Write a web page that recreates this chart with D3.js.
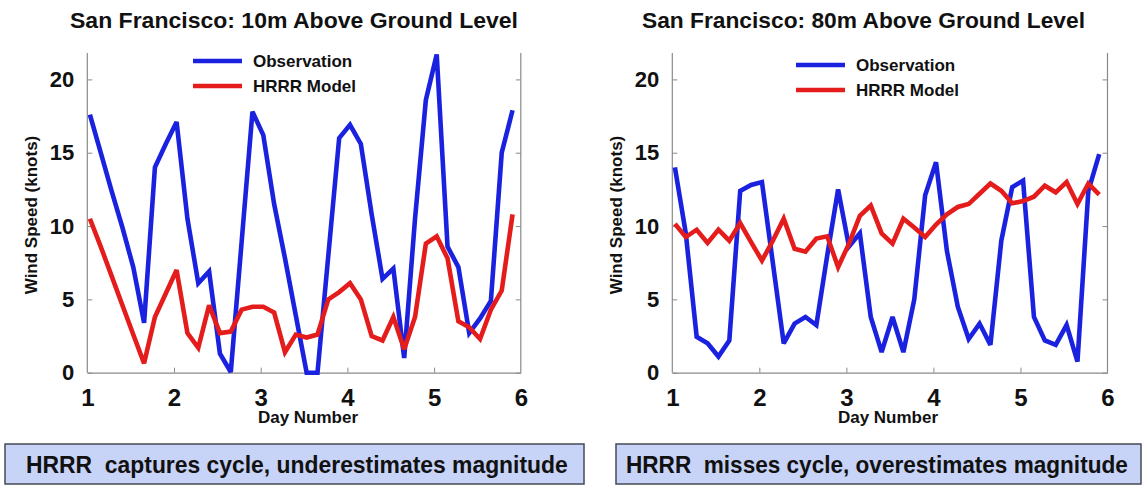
<!DOCTYPE html>
<html><head><meta charset="utf-8">
<script src="https://cdn.jsdelivr.net/npm/d3@7"></script>
<style>
body{margin:0;background:#fff}
svg{display:block}
text{font-family:"Liberation Sans",Arial,Helvetica,sans-serif;fill:#111}
</style>
</head><body>
<svg id="c" width="1143" height="487"></svg>
<script>
// ---- data ----
const days = [1.03,1.155,1.28,1.405,1.53,1.655,1.78,1.905,2.03,2.155,2.28,2.405,2.53,2.655,2.78,2.905,3.03,3.155,3.28,3.405,3.53,3.655,3.78,3.905,4.03,4.155,4.28,4.405,4.53,4.655,4.78,4.905,5.03,5.155,5.28,5.405,5.53,5.655,5.78,5.905];
const obs10 = [17.6,15.0,12.4,9.9,7.2,3.4,14.0,15.6,17.1,10.5, 6.1,6.9,1.3,0.05,8.9,17.8,16.2,11.5,7.8,3.9, 0,0,8.0,16.0,16.9,15.6,10.8,6.4,7.1,1.0, 10.5,18.6,21.7,8.6,7.2,2.7,3.7,4.9,15.0,17.9];
const hrrr10 = [10.5,8.6,6.6,4.6,2.6,0.64,3.8,5.4,7.0,2.7, 1.7,4.6,2.7,2.8,4.3,4.5,4.5,4.1,1.4,2.6, 2.4,2.6,5.0,5.5,6.1,5.0,2.5,2.2,3.8,1.6, 3.8,8.8,9.3,7.8,3.5,3.1,2.3,4.3,5.6,10.8];
const obs80 = [14.0,9.5,2.45,2.0,1.1,2.2,12.4,12.8,13.0,7.5, 2.0,3.35,3.8,3.25,8.0,12.5,8.6,9.5,3.8,1.4, 3.8,1.4,5.0,12.1,14.35,8.3,4.5,2.3,3.35,1.9, 9.0,12.65,13.1,3.8,2.2,1.9,3.25,0.75,12.4,14.9];
const hrrr80 = [10.15,9.25,9.75,8.85,9.75,9.0,10.2,8.9,7.65,9.0, 10.5,8.45,8.25,9.15,9.3,7.2,8.8,10.7,11.4,9.5, 8.8,10.5,9.9,9.25,10.1,10.8,11.3,11.5,12.2,12.9, 12.4,11.55,11.7,12.0,12.75,12.3,13.0,11.5,12.9,12.15];
const xTicks = [1,2,3,4,5,6];
const yTicks = [0,5,10,15,20];
const seriesNames = ["Observation","HRRR Model"];
const titles = ["San Francisco: 10m Above Ground Level","San Francisco: 80m Above Ground Level"];
const captions = ["HRRR  captures cycle, underestimates magnitude","HRRR  misses cycle, overestimates magnitude"];
const yLabel = "Wind Speed (knots)";
const xLabel = "Day Number";

// ---- layout ----
const svg = d3.select("#c");
const BLUE = "#1a22e0", RED = "#e41c1c", AX = "#8a8a8a";
const panels = [
  {x0:87.3, x1:520.8, obs:obs10, mod:hrrr10, title:titles[0], titleX:70, titleW:448,
   legX:193, legY:61, ylabX:37, xlabX:308, cap:captions[0], capX:5, capW:579, txtX:26, txtW:542},
  {x0:672.3, x1:1107.5, obs:obs80, mod:hrrr80, title:titles[1], titleX:642, titleW:443,
   legX:796, legY:65, ylabX:622, xlabX:888, cap:captions[1], capX:616, capW:525, txtX:626, txtW:502}
];
const yTop = 53, yBot = 372.7;

panels.forEach(p => {
  const x = d3.scaleLinear().domain([1,6]).range([p.x0, p.x1]);
  const y = d3.scaleLinear().domain([0,21.8]).range([yBot, yTop]);
  const g = svg.append("g");

  // title
  g.append("text").attr("x", p.titleX).attr("y", 28)
    .attr("font-size", 22).attr("font-weight", "bold")
    .attr("textLength", p.titleW).attr("lengthAdjust", "spacingAndGlyphs")
    .text(p.title);

  // axes
  const ay = g.append("g").attr("transform", `translate(${p.x0},0)`)
    .call(d3.axisLeft(y).tickValues(yTicks).tickFormat(d3.format("d")).tickSizeInner(-5).tickSizeOuter(0).tickPadding(13));
  const ar = g.append("g").attr("transform", `translate(${p.x1},0)`)
    .call(d3.axisRight(y).tickValues(yTicks).tickSizeInner(-5).tickSizeOuter(0).tickFormat(""));
  const ab = g.append("g").attr("transform", `translate(0,${yBot})`)
    .call(d3.axisBottom(x).tickValues(xTicks).tickFormat(d3.format("d")).tickSizeInner(-5).tickSizeOuter(0).tickPadding(16));
  [ay, ar, ab].forEach(a => {
    a.select(".domain").attr("stroke", AX).attr("stroke-width", 1.2);
    a.selectAll(".tick line").attr("stroke", AX).attr("stroke-width", 1);
  });
  ay.select(".domain").attr("d", `M0,${yTop}V${yBot}`);
  ar.select(".domain").attr("d", `M0,${yTop}V${yBot}`);
  ay.selectAll(".tick text").attr("font-size", 22).attr("font-weight", "bold")
    .attr("font-family", "Liberation Sans, Arial, sans-serif").attr("fill", "#111");
  ab.selectAll(".tick text").attr("font-size", 24).attr("font-weight", "bold")
    .attr("font-family", "Liberation Sans, Arial, sans-serif").attr("fill", "#111");
  ab.selectAll(".tick").filter(d => d === 1 || d === 6).select("line").remove();

  // axis labels
  g.append("text").attr("transform", `translate(${p.ylabX},215) rotate(-90)`)
    .attr("text-anchor", "middle").attr("font-size", 17).attr("font-weight", "bold").text(yLabel);
  g.append("text").attr("x", p.xlabX).attr("y", 423)
    .attr("text-anchor", "middle").attr("font-size", 17).attr("font-weight", "bold").text(xLabel);

  // lines
  const line = d3.line().x(d => x(d[0])).y(d => y(d[1]));
  [[p.obs, BLUE], [p.mod, RED]].forEach(([vals, col]) => {
    g.append("path").datum(days.map((d, i) => [d, vals[i]]))
      .attr("d", line).attr("fill", "none").attr("stroke", col)
      .attr("stroke-width", 4.6).attr("stroke-linejoin", "miter").attr("stroke-miterlimit", 3);
  });

  // legend
  [[seriesNames[0], BLUE], [seriesNames[1], RED]].forEach(([name, col], i) => {
    const ly = p.legY + i * 25;
    g.append("line").attr("x1", p.legX).attr("x2", p.legX + 49).attr("y1", ly).attr("y2", ly)
      .attr("stroke", col).attr("stroke-width", 4.6);
    g.append("text").attr("x", p.legX + 60).attr("y", ly + 6)
      .attr("font-size", 17).attr("font-weight", "bold").text(name);
  });

  // caption box
  g.append("rect").attr("x", p.capX).attr("y", 444).attr("width", p.capW).attr("height", 40)
    .attr("fill", "#c7d3f7").attr("stroke", "#454a55").attr("stroke-width", 1.5);
  const cap = g.append("text").attr("x", 0).attr("y", 0)
    .attr("font-size", 23).attr("font-weight", "bold")
    .attr("xml:space", "preserve").style("white-space", "pre")
    .text(p.cap);
  const natural = cap.node().getComputedTextLength();
  const sx = Math.min(1, p.txtW / natural);
  cap.attr("transform", `translate(${p.txtX},472.5) scale(${sx},1)`);
});
</script>
</body></html>
